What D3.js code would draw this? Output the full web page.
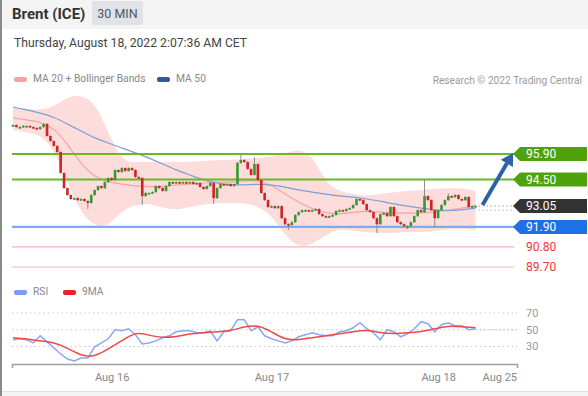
<!DOCTYPE html>
<html>
<head>
<meta charset="utf-8">
<script src="https://cdn.jsdelivr.net/npm/d3@7"></script>
<style>
  body { margin: 0; background: #fff; }
  svg { display: block; font-family: Roboto, "Liberation Sans", sans-serif; }
</style>
</head>
<body>
<svg width="588" height="396"></svg>
<script>
// 30 min candles, closes (open = previous close)
var firstOpen = 97.45;
var closes = [
  97.49, 97.38, 97.38, 97.44, 97.44, 97.38, 97.33, 97.27, 97.38, 97.55,
  96.89, 96.61, 96.34, 96.01, 94.86, 94.03, 93.65, 93.43, 93.48, 93.37,
  93.43, 93.32, 93.21, 93.65, 93.92, 94.14, 94.03, 94.36, 94.58, 94.47,
  95.02, 94.91, 95.13, 94.97, 95.13, 95.02, 94.64, 94.58, 93.59, 93.76,
  93.76, 93.81, 94.14, 94.03, 93.87, 94.14, 94.36, 94.31, 94.36, 94.31,
  94.36, 94.31, 94.36, 94.25, 94.31, 94.09, 93.98, 94.14, 94.31, 93.48,
  94.03, 94.25, 94.20, 94.25, 94.14, 94.25, 95.41, 95.57, 95.46, 95.08,
  94.75, 95.35, 94.47, 93.76, 93.37, 92.99, 93.04, 92.93, 93.04, 92.38,
  92.05, 92.00, 92.16, 92.55, 92.71, 92.82, 92.82, 92.77, 92.82, 92.88,
  92.60, 92.49, 92.44, 92.49, 92.55, 92.77, 92.82, 92.77, 92.88, 92.93,
  93.10, 93.43, 93.37, 93.15, 92.82, 92.71, 92.38, 92.05, 92.60, 92.66,
  92.49, 92.99, 92.49, 92.16, 92.05, 91.94, 91.94, 92.16, 92.49, 92.82,
  92.71, 93.59, 93.37, 92.82, 92.38, 92.82, 93.10, 93.37, 93.59, 93.54,
  93.65, 93.43, 93.37, 93.54, 92.99, 93.04, 93.05
];
// candles with a visible wick
var wicks = [
  {i: 22, low: 92.93}, {i: 38, low: 93.15}, {i: 59, low: 93.21},
  {i: 67, high: 95.85}, {i: 71, high: 95.68}, {i: 81, low: 91.78},
  {i: 107, low: 91.61}, {i: 116, low: 91.83}, {i: 121, high: 94.47},
  {i: 124, low: 91.89}, {i: 128, high: 93.70}
];

// MA 20 + Bollinger, MA 50 (one value every 4 candles)
var maStep = 4;
var bbUpper = [98.43, 98.37, 98.32, 98.48, 99.03, 99.14, 98.76, 97.11, 95.46, 95.46,
  95.46, 95.46, 95.46, 95.46, 95.52, 95.57, 95.57, 95.63, 95.68, 95.74,
  95.96, 96.17, 95.85, 94.31, 93.87, 93.70, 93.59, 93.70, 93.81, 93.87,
  93.92, 93.98, 94.03, 94.03, 93.87];
var bbLower = [97.22, 97.11, 96.94, 96.23, 94.31, 92.66, 91.94, 91.89, 92.82, 93.10,
  93.21, 92.93, 92.82, 92.99, 93.15, 93.21, 93.21, 93.21, 93.04, 92.55,
  91.45, 90.73, 90.96, 91.45, 91.83, 91.67, 91.61, 91.56, 91.56, 91.61,
  91.61, 91.67, 91.78, 91.83, 91.72];
var ma20 = [97.88, 97.77, 97.66, 97.33, 96.45, 95.35, 94.64, 94.36, 94.25, 94.14,
  94.09, 94.14, 94.20, 94.25, 94.31, 94.36, 94.36, 94.42, 94.47, 94.20,
  93.70, 93.26, 92.88, 92.66, 92.60, 92.71, 92.77, 92.71, 92.66, 92.66,
  92.66, 92.71, 92.82, 92.93, 93.04];
var ma50 = [98.48, 98.32, 98.15, 97.93, 97.55, 97.16, 96.78, 96.50, 96.23, 95.96,
  95.68, 95.35, 95.02, 94.75, 94.47, 94.31, 94.20, 94.20, 94.25, 94.20,
  94.09, 93.92, 93.81, 93.70, 93.59, 93.54, 93.43, 93.32, 93.15, 93.04,
  92.93, 92.82, 92.77, 92.82, 92.93];

// RSI (every 2 candles) and its 9MA (every 4 candles)
var rsiStep = 2;
var rsi = [38.0, 39.2, 38.0, 34.3, 42.8, 35.5, 28.3, 21.1, 15.1, 12.7,
  16.3, 16.3, 29.5, 34.3, 39.2, 50.0, 48.8, 51.2, 44.0, 33.1,
  34.3, 36.7, 40.4, 42.8, 47.6, 48.8, 48.8, 46.4, 46.4, 48.8,
  36.7, 47.6, 48.8, 62.0, 62.0, 48.8, 53.6, 42.8, 39.2, 36.7,
  34.3, 36.7, 41.6, 44.0, 46.4, 44.0, 42.8, 42.8, 47.6, 48.8,
  52.4, 58.4, 51.2, 46.4, 37.9, 50.0, 47.6, 41.6, 45.2, 51.2,
  59.6, 57.2, 47.6, 56.0, 58.4, 54.8, 54.8, 50.0, 51.2];
var rsiMaStep = 4;
var rsiMa = [40.4, 39.2, 36.7, 34.9, 28.3, 18.7, 17.5, 27.1, 36.7, 47.6,
  43.4, 40.4, 41.6, 45.2, 46.4, 47.6, 48.8, 53.6, 56.0, 47.6,
  38.0, 38.0, 40.4, 42.8, 45.2, 47.6, 50.0, 46.4, 45.2, 46.4,
  47.6, 51.2, 54.8, 53.6, 52.4];

var resistances = [95.90, 94.50];
var supports = [91.90];
var minorLevels = [90.80, 89.70];
var lastPrice = 93.05;
var target = 95.90;
var rsiLevels = [70, 50, 30];

var tickIdx = [29, 76, 125, 143];
var tickLabels = ["Aug 16", "Aug 17", "Aug 18", "Aug 25"];

var svg = d3.select("svg");

var x = d3.scaleLinear().domain([-0.3, 148.2]).range([12, 517]),
    y = d3.scaleLinear().domain([89.70, 95.90]).range([267, 154]),
    yr = d3.scaleLinear().domain([30, 70]).range([346.5, 313]);

// frame + header
svg.append("rect").attr("width", 588).attr("height", 29).attr("fill", "#f4f4f4");
svg.append("rect").attr("y", 391).attr("width", 588).attr("height", 5).attr("fill", "#f2f3f5");
svg.append("line").attr("x1", 0).attr("x2", 588).attr("y1", 391.5).attr("y2", 391.5).attr("stroke", "#e2e2e2");
svg.append("rect").attr("width", 2).attr("height", 396).attr("fill", "#8a8a8a");

svg.append("text").attr("x", 12).attr("y", 19)
  .style("font", "bold 15px Roboto, sans-serif").attr("fill", "#333").text("Brent (ICE)");
svg.append("rect").attr("x", 92).attr("y", 1).attr("width", 51).attr("height", 24)
  .attr("rx", 2).attr("fill", "#dfe3e8");
svg.append("text").attr("x", 117.5).attr("y", 18).attr("text-anchor", "middle")
  .style("font-size", "12.5px").attr("fill", "#555").text("30 MIN");
svg.append("text").attr("x", 14).attr("y", 47)
  .style("font-size", "12.2px").attr("fill", "#444").text("Thursday, August 18, 2022 2:07:36 AM CET");

// legends
function legend(items, ly) {
  items.forEach(function(d) {
    svg.append("rect").attr("x", d.x).attr("y", ly - 3).attr("width", 13).attr("height", 5)
      .attr("rx", 2).attr("fill", d.color);
    svg.append("text").attr("x", d.x + 19).attr("y", ly + 2)
      .style("font-size", "10.3px").attr("fill", "#888").text(d.name);
  });
}
legend([{x: 14, color: "#f7a3a3", name: "MA 20 + Bollinger Bands"},
        {x: 157, color: "#33589c", name: "MA 50"}], 80);
legend([{x: 14, color: "#7b9cf0", name: "RSI"},
        {x: 63, color: "#ee2222", name: "9MA"}], 293);
svg.append("text").attr("x", 582).attr("y", 84).attr("text-anchor", "end")
  .style("font-size", "10.2px").attr("fill", "#9a9a9a").text("Research \u00a9 2022 Trading Central");

// bollinger band + moving averages
var band = d3.area()
  .curve(d3.curveBasis)
  .x(function(d, i) { return x(i * maStep); })
  .y0(function(d) { return y(d[0]); })
  .y1(function(d) { return y(d[1]); });

svg.append("path")
  .datum(bbLower.map(function(v, i) { return [v, bbUpper[i]]; }))
  .attr("d", band).attr("fill", "#fddcdc");

var maLine = d3.line()
  .curve(d3.curveBasis)
  .x(function(d, i) { return x(i * maStep); })
  .y(function(d) { return y(d); });

svg.append("path").datum(ma20).attr("d", maLine)
  .attr("fill", "none").attr("stroke", "#f7a3a3").attr("stroke-width", 1.2);
svg.append("path").datum(ma50).attr("d", maLine)
  .attr("fill", "none").attr("stroke", "#7f9fd2").attr("stroke-width", 1.2);

// horizontal levels
resistances.forEach(function(v) {
  svg.append("line").attr("x1", 12).attr("x2", 514).attr("y1", y(v)).attr("y2", y(v))
    .attr("stroke", "#67b92a").attr("stroke-width", 2.2);
});
supports.forEach(function(v) {
  svg.append("line").attr("x1", 12).attr("x2", 514).attr("y1", y(v)).attr("y2", y(v))
    .attr("stroke", "#7eaaf4").attr("stroke-width", 2.2);
});
minorLevels.forEach(function(v) {
  svg.append("line").attr("x1", 12).attr("x2", 514).attr("y1", y(v)).attr("y2", y(v))
    .attr("stroke", "#f7b3b3").attr("stroke-width", 1.2);
});

var lastIdx = closes.length - 1;
svg.append("line").attr("x1", x(lastIdx) + 3).attr("x2", 514)
  .attr("y1", y(lastPrice)).attr("y2", y(lastPrice))
  .attr("stroke", "#a8a8a8").attr("stroke-dasharray", "1.5,2.5");
svg.append("line").attr("x1", x(lastIdx) + 3).attr("x2", 514)
  .attr("y1", y(ma50[ma50.length - 1]) + 2).attr("y2", y(ma50[ma50.length - 1]) + 2)
  .attr("stroke", "#9fb8e8").attr("stroke-dasharray", "1.5,2.5");

// candles
var candles = closes.map(function(c, i) {
  var o = i === 0 ? firstOpen : closes[i - 1];
  return {i: i, o: o, c: c, h: Math.max(o, c), l: Math.min(o, c)};
});
wicks.forEach(function(w) {
  if (w.high) candles[w.i].h = w.high;
  if (w.low) candles[w.i].l = w.low;
});

var cg = svg.append("g");
cg.selectAll(".wick").data(candles).enter().append("line")
  .attr("class", "wick")
  .attr("x1", function(d) { return x(d.i); })
  .attr("x2", function(d) { return x(d.i); })
  .attr("y1", function(d) { return y(d.h) - 0.8; })
  .attr("y2", function(d) { return y(d.l) + 0.8; })
  .attr("stroke", "#8c8c8c").attr("stroke-width", 1);

cg.selectAll(".body").data(candles).enter().append("rect")
  .attr("class", "body")
  .attr("x", function(d) { return x(d.i) - 1.3; })
  .attr("width", 2.6)
  .attr("y", function(d) { return y(Math.max(d.o, d.c)); })
  .attr("height", function(d) { return Math.max(1.6, Math.abs(y(d.o) - y(d.c))); })
  .attr("fill", function(d) { return d.c >= d.o ? "#379830" : "#d22222"; });

// price tags
function tag(v, color, txt) {
  var ty = y(v);
  svg.append("path")
    .attr("d", "M513," + ty + "L520," + (ty - 7) + "H587V" + (ty + 7) + "H520Z")
    .attr("fill", color);
  svg.append("text").attr("x", 526).attr("y", ty).attr("dy", "0.36em")
    .style("font-size", "12px").attr("fill", "#fff").text(txt);
}
resistances.forEach(function(v) { tag(v, "#4ea30c", v.toFixed(2)); });
tag(lastPrice, "#333", lastPrice.toFixed(2));
supports.forEach(function(v) { tag(v, "#1f6fe6", v.toFixed(2)); });
minorLevels.forEach(function(v) {
  svg.append("text").attr("x", 526).attr("y", y(v)).attr("dy", "0.36em")
    .style("font-size", "12px").attr("fill", "#ee3535").text(v.toFixed(2));
});

// target arrow
var ax0 = x(lastIdx) + 7, ay0 = y(lastPrice) - 1,
    ax1 = 513, ay1 = y(target) - 1;
var ang = Math.atan2(ay1 - ay0, ax1 - ax0);
var hx = ax1 - 12 * Math.cos(ang), hy = ay1 - 12 * Math.sin(ang);
svg.append("line").attr("x1", ax0).attr("y1", ay0).attr("x2", hx).attr("y2", hy)
  .attr("stroke", "#2d61a8").attr("stroke-width", 4);
svg.append("path")
  .attr("d", "M" + ax1 + "," + ay1 +
    "L" + (hx + 7 * Math.sin(ang)) + "," + (hy - 7 * Math.cos(ang)) +
    "L" + (hx - 7 * Math.sin(ang)) + "," + (hy + 7 * Math.cos(ang)) + "Z")
  .attr("fill", "#2d61a8");

// RSI panel
rsiLevels.forEach(function(v) {
  svg.append("line").attr("x1", 12).attr("x2", 517).attr("y1", yr(v)).attr("y2", yr(v))
    .attr("stroke", "#c8c8c8").attr("stroke-dasharray", "1.5,3");
  svg.append("text").attr("x", 526).attr("y", yr(v)).attr("dy", "0.36em")
    .style("font-size", "11px").attr("fill", "#999").text(v);
});
svg.append("line").attr("x1", x(lastIdx)).attr("x2", 517).attr("y1", yr(50)).attr("y2", yr(50))
  .attr("stroke", "#a9bdf2").attr("stroke-dasharray", "1.5,2.5");

svg.append("path").datum(rsi)
  .attr("d", d3.line()
    .x(function(d, i) { return x(i * rsiStep); })
    .y(function(d) { return yr(d); }))
  .attr("fill", "none").attr("stroke", "#8aa8f2").attr("stroke-width", 1.5);

svg.append("path").datum(rsiMa)
  .attr("d", d3.line()
    .curve(d3.curveBasis)
    .x(function(d, i) { return x(i * rsiMaStep); })
    .y(function(d) { return yr(d); }))
  .attr("fill", "none").attr("stroke", "#f04848").attr("stroke-width", 1.5);

// x axis
var ax = svg.append("g")
  .attr("transform", "translate(0,364)")
  .call(d3.axisBottom(x)
    .tickValues(tickIdx)
    .tickFormat(function(d, i) { return tickLabels[i]; })
    .tickSizeInner(0)
    .tickSizeOuter(4)
    .tickPadding(9));
ax.select(".domain").attr("stroke", "#a0a0a0").attr("stroke-width", 1.5);
ax.selectAll("text").style("font-size", "11px").style("font-family", "Roboto, sans-serif").attr("fill", "#888");
</script>
</body>
</html>
